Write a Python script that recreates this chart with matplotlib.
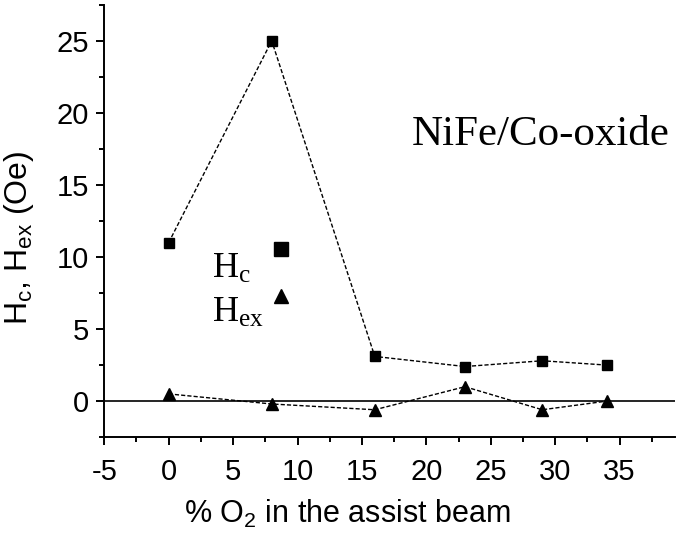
import numpy as np
import matplotlib.pyplot as plt
from matplotlib.lines import Line2D
from matplotlib.ticker import MultipleLocator

# O2 content in the assist beam (%) and measured fields (Oe)
o2_pct = [0, 8, 16, 23, 29, 34]
hc = [11.0, 25.0, 3.1, 2.4, 2.8, 2.5]
hex_ = [0.5, -0.2, -0.6, 1.0, -0.6, 0.0]

sans = 'Liberation Sans'
serif = 'Liberation Serif'
plt.rcParams['axes.unicode_minus'] = False

fig = plt.figure(figsize=(6.77, 5.39), dpi=100)
ax = fig.add_axes([0.154, 0.189, 0.843, 0.802])

ax.plot(o2_pct, hc, color='k', lw=1, dashes=(3, 1.5),
        marker='s', ms=6.5, mfc='k', mec='k')
ax.plot(o2_pct, hex_, color='k', lw=1, dashes=(3, 1.5),
        marker='^', ms=8, mfc='k', mec='k')
ax.axhline(0, color='k', lw=1.2)

ax.set_xlim(-5, 39.3)
ax.set_ylim(-2.5, 27.5)
ax.xaxis.set_major_locator(MultipleLocator(5))
ax.xaxis.set_minor_locator(MultipleLocator(2.5))
ax.yaxis.set_major_locator(MultipleLocator(5))
ax.yaxis.set_minor_locator(MultipleLocator(2.5))

for s in ['top', 'right']:
    ax.spines[s].set_visible(False)
for s in ['left', 'bottom']:
    ax.spines[s].set_linewidth(1.4)

ax.tick_params(which='major', direction='out', length=6, width=1.4,
               labelsize=21)
ax.tick_params(axis='y', which='major', pad=5)
ax.tick_params(axis='x', which='major', pad=9)
ax.tick_params(which='minor', direction='out', length=3.5, width=1.4)
for lab in ax.get_xticklabels() + ax.get_yticklabels():
    lab.set_fontfamily(sans)

ax.set_xlabel(r'% O$\mathregular{_2}$ in the assist beam',
              fontsize=22, fontfamily=sans)
ax.xaxis.set_label_coords(0.425, -0.14)
ax.set_ylabel(r'$\mathregular{H_c}$, $\mathregular{H_{ex}}$ (Oe)',
              fontsize=23, fontfamily=sans)
ax.yaxis.set_label_coords(-0.12, 0.46)

ax.text(0.99, 0.70, 'NiFe/Co-oxide', transform=ax.transAxes,
        ha='right', va='center', fontsize=31, fontfamily=serif)

# key: labels on the left, symbols in a column to their right
ax.text(0.189, 0.368, r'$\mathregular{H_c}$', transform=ax.transAxes,
        ha='left', va='baseline', fontsize=26, fontfamily=serif)
ax.text(0.189, 0.266, r'$\mathregular{H_{ex}}$', transform=ax.transAxes,
        ha='left', va='baseline', fontsize=26, fontfamily=serif)
handles = [
    Line2D([], [], ls='none', marker='s', ms=10, color='k'),
    Line2D([], [], ls='none', marker='^', ms=10, color='k'),
]
ax.legend(handles, ['', ''], loc='center', bbox_to_anchor=(0.31, 0.375),
          frameon=False, handlelength=1.0, handletextpad=0, borderpad=0,
          labelspacing=0.35, prop={'size': 26})

fig.savefig('out.png', dpi=100)
